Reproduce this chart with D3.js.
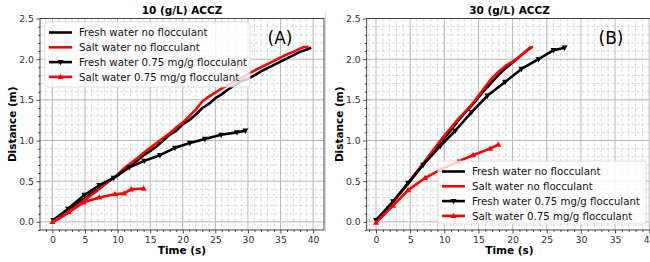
<!DOCTYPE html>
<html>
<head>
<meta charset="utf-8">
<script src="https://cdn.jsdelivr.net/npm/d3@7"></script>
<style>
  body { margin: 0; background: #fff; }
  svg { display: block; font-family: "DejaVu Sans", sans-serif; }
</style>
</head>
<body>
<div id="chart-area"></div>
<script>
// data: [time (s), distance (m)]
const seriesNames = [
  "Fresh water no flocculant",
  "Salt water no flocculant",
  "Fresh water 0.75 mg/g flocculant",
  "Salt water 0.75 mg/g flocculant"
]
const panelTitles = ["10 (g/L) ACCZ", "30 (g/L) ACCZ"]
const panelTags = ["(A)", "(B)"]
const xTicks = [0, 5, 10, 15, 20, 25, 30, 35, 40]
const yTicks = [0.0, 0.5, 1.0, 1.5, 2.0, 2.5]

const aFresh = [[0,0.02],[1,0.07],[2,0.12],[3,0.18],[4,0.24],[5,0.29],[6,0.35],[7,0.40],[8,0.46],[9,0.52],
  [10,0.57],[11,0.63],[12,0.69],[13,0.75],[14,0.82],[15,0.87],[16,0.93],[17,1.00],[18,1.07],[19,1.12],
  [20,1.20],[21,1.25],[22,1.32],[23,1.40],[24,1.45],[25,1.52],[26,1.57],[27,1.63],[28,1.68],[29,1.73],
  [30,1.76],[31,1.80],[32,1.85],[33,1.89],[34,1.93],[35,1.97],[36,2.01],[37,2.05],[38,2.09],[39,2.12],[39.7,2.14]]
const aSalt = [[0,0],[1,0.04],[2,0.09],[3,0.15],[4,0.21],[5,0.27],[6,0.33],[7,0.39],[8,0.46],[9,0.52],
  [10,0.58],[11,0.66],[12,0.72],[13,0.78],[14,0.85],[15,0.91],[16,0.97],[17,1.03],[18,1.09],[19,1.16],
  [20,1.22],[21,1.30],[22,1.38],[23,1.48],[24,1.54],[25,1.59],[26,1.64],[27,1.68],[28,1.73],[29,1.77],
  [30,1.82],[31,1.86],[32,1.90],[33,1.94],[34,1.98],[35,2.02],[36,2.06],[37,2.09],[38,2.13],[38.6,2.15],[39.3,2.15]]
const aFreshFloc = [[0.15,0.02],[2.4,0.16],[4.9,0.33],[7.2,0.45],[9.4,0.54],[11.8,0.67],[14.1,0.75],
  [16.5,0.82],[18.8,0.91],[21.1,0.97],[23.4,1.02],[25.9,1.07],[28.3,1.10],[29.6,1.12]]
const aSaltFloc = [[0,0],[2.5,0.12],[4.8,0.24],[7.2,0.30],[9.6,0.34],[11,0.35],[12.1,0.40],[14,0.41]]

const bFresh = [[0,0.02],[1,0.10],[2,0.20],[3,0.30],[4,0.40],[5,0.50],[6,0.61],[7,0.72],[8,0.82],[9,0.92],
  [10,1.03],[11,1.13],[12,1.24],[13,1.34],[14,1.43],[15,1.53],[16,1.63],[17,1.72],[18,1.81],[19,1.89],
  [20,1.96],[21,2.03],[22,2.10],[22.7,2.14]]
const bSalt = [[0,0],[1,0.08],[2,0.18],[3,0.29],[4,0.40],[5,0.51],[6,0.62],[7,0.73],[8,0.84],[9,0.95],
  [10,1.06],[11,1.16],[12,1.26],[13,1.35],[14,1.44],[15,1.55],[16,1.66],[17,1.77],[18,1.85],[19,1.92],
  [20,1.97],[21,2.03],[22,2.10],[22.5,2.14],[23,2.15]]
const bFreshFloc = [[0,0.02],[2.5,0.25],[4.7,0.48],[6.9,0.70],[9.4,0.93],[11.6,1.12],[14,1.35],[16.3,1.55],
  [18.9,1.72],[21.3,1.88],[23.8,2.00],[26,2.11],[27.6,2.14]]
const bSaltFloc = [[0,-0.01],[2.5,0.20],[4.7,0.39],[7.2,0.54],[9.4,0.64],[12,0.74],[14.2,0.82],[16.7,0.90],[17.9,0.95]]

const WIDTH = 650
const HEIGHT = 262

const svg = d3.select("#chart-area").append("svg")
  .attr("width", WIDTH)
  .attr("height", HEIGHT)

// faint frame line between panels
svg.append("line")
  .attr("x1", 325.5).attr("x2", 325.5)
  .attr("y1", 12).attr("y2", 232)
  .attr("stroke", "#d8d8d8").attr("stroke-width", 1)

const styles = [
  { color: "#000", marker: null },
  { color: "#f00", marker: null },
  { color: "#000", marker: "down" },
  { color: "#f00", marker: "up" }
]

const panels = [
  { left: 40, right: 324, xDomain: [-1.9, 41.67], series: [aFresh, aSalt, aFreshFloc, aSaltFloc],
    title: panelTitles[0], tag: panelTags[0], tagX: 280,
    legend: { x: 45, y: 22, w: 205, h: 65 } },
  { left: 366.7, right: 652.3, xDomain: [-1.36, 40.45], series: [bFresh, bSalt, bFreshFloc, bSaltFloc],
    title: panelTitles[1], tag: panelTags[1], tagX: 611,
    legend: { x: 438, y: 161, w: 208, h: 63 } }
]

const TOP = 18.5
const BOTTOM = 230

function triangle(dir, size) {
  const h = size * 0.9
  return dir === "up"
    ? `M0,${-h * 0.6}L${size / 2},${h * 0.4}L${-size / 2},${h * 0.4}Z`
    : `M0,${h * 0.6}L${size / 2},${-h * 0.4}L${-size / 2},${-h * 0.4}Z`
}

panels.forEach((p, pi) => {
  const x = d3.scaleLinear().domain(p.xDomain).range([p.left, p.right])
  const y = d3.scaleLinear().domain([-0.1, 2.5]).range([BOTTOM, TOP])

  const g = svg.append("g")
  const clipId = "clip" + pi
  svg.append("clipPath").attr("id", clipId)
    .append("rect").attr("x", p.left).attr("y", TOP)
    .attr("width", p.right - p.left).attr("height", BOTTOM - TOP)

  const xMinor = d3.range(-1, 41, 1).filter(v => v % 5 !== 0)
  const yMinor = d3.range(-1, 25, 1).map(v => v / 10).filter(v => Math.round(v * 10) % 5 !== 0)

  // minor grid
  const grid = g.append("g").attr("clip-path", `url(#${clipId})`)
  grid.selectAll(".xm").data(xMinor).enter().append("line")
    .attr("x1", d => x(d)).attr("x2", d => x(d))
    .attr("y1", TOP).attr("y2", BOTTOM)
    .attr("stroke", "#d0d0d0").attr("stroke-width", 0.8).attr("stroke-dasharray", "3,2")
  grid.selectAll(".ym").data(yMinor).enter().append("line")
    .attr("x1", p.left).attr("x2", p.right)
    .attr("y1", d => y(d)).attr("y2", d => y(d))
    .attr("stroke", "#d0d0d0").attr("stroke-width", 0.8).attr("stroke-dasharray", "3,2")
  // major grid
  grid.selectAll(".xg").data(xTicks).enter().append("line")
    .attr("x1", d => x(d)).attr("x2", d => x(d))
    .attr("y1", TOP).attr("y2", BOTTOM)
    .attr("stroke", "#b0b0b0").attr("stroke-width", 0.9)
  grid.selectAll(".yg").data(yTicks).enter().append("line")
    .attr("x1", p.left).attr("x2", p.right)
    .attr("y1", d => y(d)).attr("y2", d => y(d))
    .attr("stroke", "#b0b0b0").attr("stroke-width", 0.9)

  // axes
  const xAxis = g.append("g")
    .attr("transform", `translate(0, ${BOTTOM})`)
    .call(d3.axisBottom(x).tickValues(xTicks).tickFormat(d3.format("d")).tickSize(3.5).tickPadding(2.5))
  const xAxisMinor = g.append("g")
    .attr("transform", `translate(0, ${BOTTOM})`)
    .call(d3.axisBottom(x).tickValues(xMinor).tickFormat("").tickSize(2))
  const yAxis = g.append("g")
    .attr("transform", `translate(${p.left}, 0)`)
    .call(d3.axisLeft(y).tickValues(yTicks).tickFormat(d3.format(".1f")).tickSize(3.5).tickPadding(2.5))
  const yAxisMinor = g.append("g")
    .attr("transform", `translate(${p.left}, 0)`)
    .call(d3.axisLeft(y).tickValues(yMinor).tickFormat("").tickSize(2))
  ;[xAxis, xAxisMinor, yAxis, yAxisMinor].forEach(a => {
    a.select(".domain").remove()
    a.selectAll("line").attr("stroke", "#222").attr("stroke-width", 0.8)
    a.selectAll("text").attr("font-size", "9.3px").attr("fill", "#333")
      .attr("font-family", "DejaVu Sans, sans-serif")
  })

  // frame
  g.append("rect")
    .attr("x", p.left).attr("y", TOP)
    .attr("width", p.right - p.left).attr("height", BOTTOM - TOP)
    .attr("fill", "none").attr("stroke", "#222").attr("stroke-width", 0.8)

  // lines
  const line = d3.line().x(d => x(d[0])).y(d => y(d[1]))
  const plot = g.append("g").attr("clip-path", `url(#${clipId})`)
  p.series.forEach((data, si) => {
    const st = styles[si]
    plot.append("path")
      .datum(data)
      .attr("d", line)
      .attr("fill", "none")
      .attr("stroke", st.color)
      .attr("stroke-width", 2.6)
      .attr("stroke-linejoin", "round")
    if (st.marker) {
      plot.selectAll(".m" + si).data(data).enter().append("path")
        .attr("transform", d => `translate(${x(d[0])}, ${y(d[1])})`)
        .attr("d", triangle(st.marker, 6))
        .attr("fill", st.color)
    }
  })

  // title
  svg.append("text")
    .attr("x", (p.left + Math.min(p.right, 652.3)) / 2)
    .attr("y", 14)
    .attr("text-anchor", "middle")
    .attr("font-size", "10.5px")
    .attr("font-weight", "bold")
    .text(p.title)

  // x label
  svg.append("text")
    .attr("x", (p.left + p.right) / 2)
    .attr("y", 254)
    .attr("text-anchor", "middle")
    .attr("font-size", "10.5px")
    .attr("font-weight", "bold")
    .text("Time (s)")

  // y label
  svg.append("text")
    .attr("transform", `translate(${p.left - 24}, ${(TOP + BOTTOM) / 2}) rotate(-90)`)
    .attr("text-anchor", "middle")
    .attr("font-size", "10.5px")
    .attr("font-weight", "bold")
    .text("Distance (m)")

  // legend
  const L = p.legend
  const legend = svg.append("g").attr("transform", `translate(${L.x}, ${L.y})`)
  legend.append("rect")
    .attr("width", L.w).attr("height", L.h).attr("rx", 2.5)
    .attr("fill", "#fff").attr("fill-opacity", 0.8)
    .attr("stroke", "#d6d6d6").attr("stroke-width", 0.8)
  seriesNames.forEach((name, i) => {
    const row = legend.append("g").attr("transform", `translate(0, ${10.5 + i * 14.8})`)
    row.append("line")
      .attr("x1", 4).attr("x2", 27).attr("y1", 0).attr("y2", 0)
      .attr("stroke", styles[i].color).attr("stroke-width", 2.6)
    if (styles[i].marker) {
      row.append("path")
        .attr("transform", "translate(15.5, 0)")
        .attr("d", triangle(styles[i].marker, 6))
        .attr("fill", styles[i].color)
    }
    row.append("text")
      .attr("x", 34).attr("y", 3.7)
      .attr("font-size", "10.2px")
      .attr("fill", "#111")
      .text(name)
  })

  // panel tag
  svg.append("text")
    .attr("x", p.tagX)
    .attr("y", 44)
    .attr("text-anchor", "middle")
    .attr("font-size", "17px")
    .text(p.tag)
})
</script>
</body>
</html>
